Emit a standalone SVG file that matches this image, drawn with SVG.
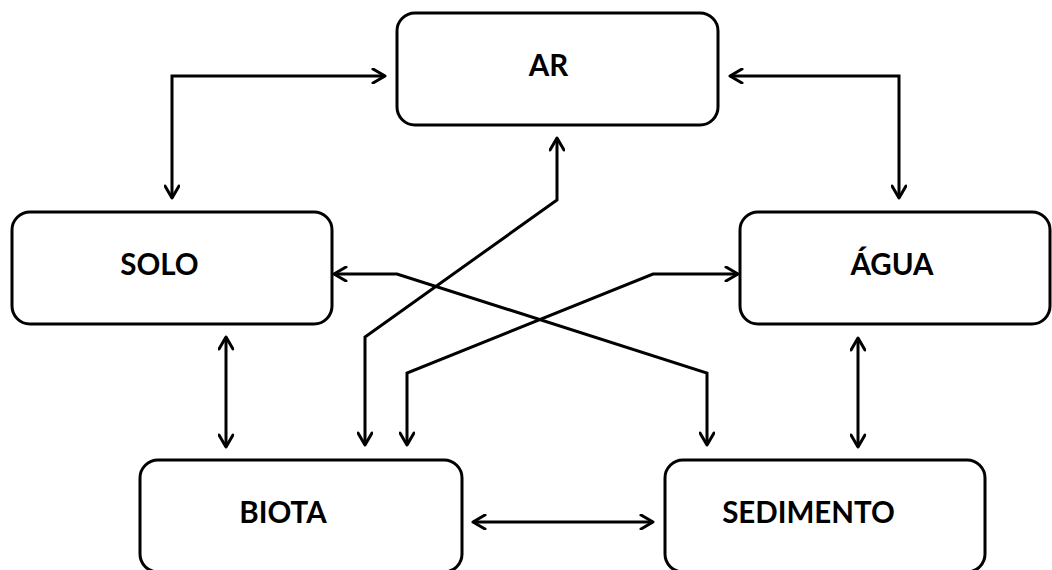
<svg xmlns="http://www.w3.org/2000/svg" width="1052" height="570" viewBox="0 0 1052 570">
  <defs>
    <marker id="arr" viewBox="0 0 16 16" markerWidth="16" markerHeight="16" refX="14" refY="8" orient="auto-start-reverse" markerUnits="userSpaceOnUse">
      <path d="M2,1 L14,8 L2,15" fill="none" stroke="#000" stroke-width="3" stroke-linejoin="round" stroke-linecap="round"/>
    </marker>
  </defs>
  <style>
    .box { fill: #fff; stroke: #000; stroke-width: 3; }
    .lbl { font-family: Lato, "Liberation Sans", sans-serif; font-weight: bold; font-size: 29.5px; fill: #000; text-anchor: middle; }
    .con { fill: none; stroke: #000; stroke-width: 3; stroke-linejoin: miter; }
    .two { marker-start: url(#arr); marker-end: url(#arr); }
  </style>
  <rect width="1052" height="570" fill="#fff"/>

  <g id="connectors">
    <polyline class="con two" points="385,76 172,76 172,198"/>
    <polyline class="con two" points="730,76 899,76 899,198"/>
    <polyline class="con two" points="365,445 365,337 557,200 557,138"/>
    <polyline class="con two" points="707,445 707,373 397,274 334,274"/>
    <polyline class="con two" points="407,445 407,373 653,274 738,274"/>
    <line class="con two" x1="226" y1="337" x2="226" y2="447"/>
    <line class="con two" x1="858" y1="338" x2="858" y2="447"/>
    <line class="con two" x1="473" y1="522" x2="653" y2="522"/>
  </g>

  <g id="node-ar">
    <rect class="box" x="397" y="13" width="321" height="112" rx="18"/>
    <text class="lbl" x="548.5" y="76">AR</text>
  </g>
  <g id="node-solo">
    <rect class="box" x="12" y="212" width="320" height="112" rx="18"/>
    <text class="lbl" x="159.5" y="275">SOLO</text>
  </g>
  <g id="node-agua">
    <rect class="box" x="740" y="212" width="310" height="112" rx="18"/>
    <text class="lbl" x="892" y="275">ÁGUA</text>
  </g>
  <g id="node-biota">
    <rect class="box" x="140" y="460" width="322" height="112" rx="18"/>
    <text class="lbl" x="283" y="523">BIOTA</text>
  </g>
  <g id="node-sedimento">
    <rect class="box" x="665" y="460" width="320" height="112" rx="18"/>
    <text class="lbl" x="808.5" y="523">SEDIMENTO</text>
  </g>
</svg>
